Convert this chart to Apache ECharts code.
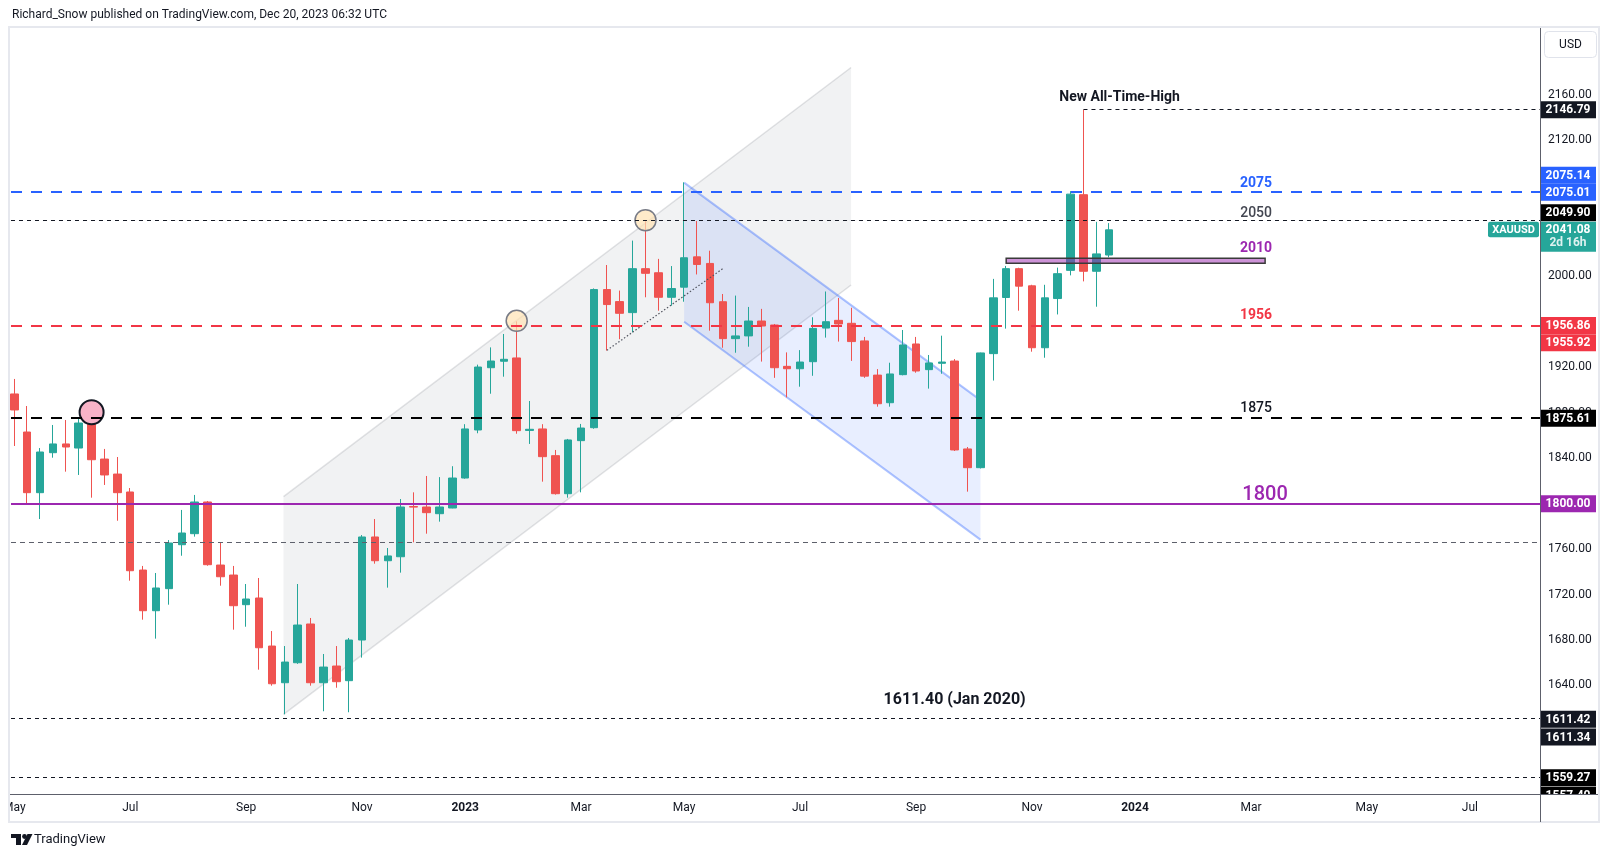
<!DOCTYPE html>
<html><head><meta charset="utf-8">
<script src="https://cdn.jsdelivr.net/npm/echarts@6/dist/echarts.min.js"></script>
<style>html,body{margin:0;padding:0;background:#fff;}#c{width:1610px;height:857px;}</style>
</head><body><div id="c"></div>
<script>
// ---------- data (weekly XAUUSD candles) ----------
const weeks = ['2022-05-02','2022-05-09','2022-05-16','2022-05-23','2022-05-30','2022-06-06','2022-06-13','2022-06-20','2022-06-27','2022-07-04',
'2022-07-11','2022-07-18','2022-07-25','2022-08-01','2022-08-08','2022-08-15','2022-08-22','2022-08-29','2022-09-05','2022-09-12',
'2022-09-19','2022-09-26','2022-10-03','2022-10-10','2022-10-17','2022-10-24','2022-10-31','2022-11-07','2022-11-14','2022-11-21',
'2022-11-28','2022-12-05','2022-12-12','2022-12-19','2022-12-26','2023-01-02','2023-01-09','2023-01-16','2023-01-23','2023-01-30',
'2023-02-06','2023-02-13','2023-02-20','2023-02-27','2023-03-06','2023-03-13','2023-03-20','2023-03-27','2023-04-03','2023-04-10',
'2023-04-17','2023-04-24','2023-05-01','2023-05-08','2023-05-15','2023-05-22','2023-05-29','2023-06-05','2023-06-12','2023-06-19',
'2023-06-26','2023-07-03','2023-07-10','2023-07-17','2023-07-24','2023-07-31','2023-08-07','2023-08-14','2023-08-21','2023-08-28',
'2023-09-04','2023-09-11','2023-09-18','2023-09-25','2023-10-02','2023-10-09','2023-10-16','2023-10-23','2023-10-30','2023-11-06',
'2023-11-13','2023-11-20','2023-11-27','2023-12-04','2023-12-11','2023-12-18'];
const opens = [1896.6,1863.1,1809.7,1844.9,1852.6,1849.0,1871.0,1839.3,1826.1,1810.3,
1741.6,1705.8,1725.2,1763.9,1773.6,1801.5,1746.0,1737.2,1711.1,1717.0,
1674.7,1642.4,1660.0,1694.1,1642.4,1657.1,1644.2,1680.0,1770.7,1749.8,
1753.3,1797.5,1797.1,1791.2,1796.2,1822.6,1864.9,1919.7,1925.4,1928.3,
1864.5,1865.8,1842.3,1808.8,1855.5,1866.9,1988.5,1977.9,1968.2,2006.9,
2003.3,1981.7,1990.6,2017.3,2011.5,1977.8,1945.3,1947.7,1960.8,1957.3,
1920.9,1918.8,1925.0,1954.6,1961.4,1958.8,1943.3,1913.2,1888.9,1913.6,
1940.6,1918.0,1923.6,1925.6,1848.2,1831.7,1932.1,1981.5,2006.9,1991.8,
1937.3,1980.6,2005.4,2072.0,2004.6,2018.9];
const highs = [1909.8,1886.0,1849.0,1869.3,1873.7,1875.0,1879.8,1848.2,1841.1,1813.8,
1745.2,1739.0,1768.0,1794.5,1807.7,1802.4,1765.4,1745.2,1729.3,1734.6,
1687.9,1674.7,1729.3,1699.4,1667.7,1674.7,1681.8,1772.4,1786.5,1761.0,
1804.1,1810.0,1824.4,1823.4,1833.0,1870.0,1922.4,1937.6,1949.4,1960.5,
1890.4,1870.0,1847.3,1857.0,1870.2,1989.5,2010.1,1987.6,2031.6,2048.7,
2015.5,2009.2,2082.9,2048.8,2022.7,1984.6,1983.2,1973.2,1971.5,1958.2,
1933.2,1935.2,1964.1,1986.8,1981.1,1972.5,1946.8,1918.5,1924.1,1952.9,
1946.8,1930.9,1947.9,1927.3,1849.9,1933.0,1997.9,2009.3,2007.7,1992.7,
1992.7,2007.8,2075.14,2146.79,2048.1,2047.0];
const lows = [1850.8,1798.9,1786.5,1840.5,1828.2,1825.3,1805.3,1816.5,1785.0,1732.2,
1697.9,1681.2,1711.1,1754.2,1771.0,1745.4,1727.8,1689.1,1691.7,1653.9,
1639.8,1614.6,1659.0,1639.8,1617.3,1638.0,1616.4,1664.5,1747.2,1726.1,
1739.3,1766.0,1773.6,1784.2,1796.0,1822.0,1862.0,1896.8,1911.8,1861.6,
1852.6,1819.4,1808.0,1805.3,1810.0,1866.0,1934.8,1944.8,1950.9,1981.7,
1969.9,1974.3,1977.8,2001.8,1952.3,1937.3,1932.9,1938.2,1925.1,1910.8,
1893.6,1903.0,1912.6,1946.2,1942.7,1925.7,1910.8,1885.4,1885.4,1913.0,
1915.3,1901.3,1914.4,1846.4,1810.6,1831.0,1908.4,1954.1,1969.9,1933.8,
1928.5,1966.6,2001.0,1995.7,1973.4,2016.9];
const closes = [1882.5,1809.7,1845.5,1852.6,1849.9,1871.0,1838.7,1825.3,1809.7,1741.0,
1705.8,1725.8,1765.4,1774.2,1801.5,1746.3,1735.7,1710.2,1716.1,1673.2,
1641.5,1660.6,1693.2,1642.4,1656.2,1643.3,1680.0,1770.7,1749.8,1754.0,
1797.1,1797.0,1792.1,1797.1,1822.6,1865.8,1920.3,1925.6,1927.1,1864.3,
1865.5,1841.4,1808.8,1856.1,1866.6,1988.5,1975.3,1967.6,2006.9,2002.8,
1981.7,1989.4,2016.5,2010.6,1976.9,1945.3,1947.7,1960.8,1956.4,1919.7,
1918.8,1924.7,1954.3,1960.2,1958.2,1942.7,1912.3,1888.0,1914.2,1939.7,
1916.8,1923.9,1924.7,1847.3,1831.7,1932.7,1981.2,2006.9,1991.5,1937.3,
1981.2,2002.5,2072.5,2004.6,2019.9,2041.08];

// time axis labels (week index of first bar in month) and price ticks
const timeLabelIdx = [0, 9, 18, 27, 35, 44, 52, 61, 70, 79, 87, 96, 105, 113];
const timeLabelText = ['May','Jul','Sep','Nov','2023','Mar','May','Jul','Sep','Nov','2024','Mar','May','Jul'];
const priceTicks = [1640, 1680, 1720, 1760, 1840, 1880, 1920, 2000, 2120, 2160];

// horizontal levels
const athLevel = 2146.79, athIdx = 83;
const levelValues = [2075.01, 2049.90, 1956.86, 1875.61, 1800.00, 1766.5, 1611.40, 1559.27];
// drawings (week index, price)
const grayChX = [20.9, 64.96], grayChUpper = [1806.2, 2184.0], grayChLower = [1614.6, 1992.5];
const blueChX = [52, 75], blueChUpper = [2082.6, 1891.2], blueChLower = [1960.2, 1768.4];
const trendX = [46, 55], trendY = [1935.0, 2006.9];
const zoneX = [77, 97.1], zoneY = [2016.0, 2011.6];
const circleX = [6, 39, 49], circleY = [1880.5, 1961.0, 2049.5];
// annotation texts
const noteText = ['New All-Time-High', '2075', '2050', '2010', '1956', '1875', '1800', '1611.40 (Jan 2020)'];
const noteX = [85.8, 96.4, 96.4, 96.4, 96.4, 96.4, 97.1, 73.0];
const noteY = [2157.6, 2081.6, 2055.6, 2024.8, 1966.0, 1883.8, 1807.9, 1627.6];
// price-scale tags
const tagValues = [2146.79, 2075.14, 2075.01, 2049.90, 1956.86, 1955.92, 1875.61, 1800.00, 1611.42, 1611.34, 1559.27, 1557.40];
const lastPrice = closes[closes.length - 1];
const countdown = '2d 16h';

// ---------- styles (kept out of data) ----------
const FONT = 'Roboto, "Liberation Sans", sans-serif';
const UP = '#26a69a', DOWN = '#ef5350';
const levelStyles = [
  {color:'#2962ff', width:2, type:[11,9]},
  {color:'#131722', width:1, type:[4,4]},
  {color:'#f23645', width:2, type:[11,9]},
  {color:'#000000', width:2, type:[11,9]},
  {color:'#9c27b0', width:2, type:'solid'},
  {color:'#5d606b', width:1, type:[5,4]},
  {color:'#131722', width:1, type:[4,4]},
  {color:'#131722', width:1, type:[4,4]}
];
const noteStyles = [
  {c:'#131722', s:14, w:'bold'},
  {c:'#2962ff', s:14, w:'bold'},
  {c:'#434651', s:14, w:'500'},
  {c:'#9c27b0', s:14, w:'bold'},
  {c:'#f23645', s:14, w:'bold'},
  {c:'#131722', s:14, w:'500'},
  {c:'#9c27b0', s:20, w:'500'},
  {c:'#131722', s:16, w:'bold'}
];
const tagBg = ['#131722','#2962ff','#2962ff','#000000','#f23645','#f23645','#000000','#9c27b0','#131722','#131722','#000000','#000000'];
const tagShift = [0, -16, 1, -7, 0, 16.3, 0.5, 0, 1.4, 19, 0.5, 16];

const xMin = -0.256, xMax = 118.44, yMin = 1544.45, yMax = 2218.75;

const candleData = weeks.map((w, i) => [i, opens[i], closes[i], lows[i], highs[i]]);

const chart = echarts.init(document.getElementById('c'), null, {renderer: 'canvas'});

const markData = levelValues.map((v, k) => ({yAxis: v, lineStyle: levelStyles[k]}));
markData.push([{coord: [athIdx, athLevel], lineStyle: {color:'#131722', width:1, type:[4,4]}}, {coord: [xMax, athLevel]}]);

const option = {
  animation: false,
  backgroundColor: '#ffffff',
  textStyle: {fontFamily: FONT},
  grid: {left: 10, top: 28, width: 1530, height: 766, containLabel: false},
  xAxis: {
    type: 'value', min: xMin, max: xMax,
    axisLine: {show: false}, axisTick: {show: false}, splitLine: {show: false},
    axisLabel: {
      customValues: timeLabelIdx, margin: 8, color: '#131722', fontSize: 12, fontFamily: FONT,
      formatter: v => { const t = timeLabelText[timeLabelIdx.indexOf(v)] || ''; return /^\d{4}$/.test(t) ? '{y|' + t + '}' : t; },
      rich: {y: {fontWeight: 'bold', fontSize: 12, color: '#131722', fontFamily: FONT}}
    }
  },
  yAxis: {
    type: 'value', position: 'right', min: yMin, max: yMax, scale: true,
    axisLine: {show: false}, axisTick: {show: false}, splitLine: {show: false},
    axisLabel: {customValues: priceTicks, margin: 8, color: '#131722', fontSize: 12, fontFamily: FONT,
      formatter: v => v.toFixed(2)}
  },
  series: [
    { // channels (under candles)
      type: 'custom', z: 1, silent: true, data: [[0, 1800]],
      renderItem: (params, api) => {
        const g = (x, y) => api.coord([x, y]);
        const gUL = g(grayChX[0], grayChUpper[0]), gUR = g(grayChX[1], grayChUpper[1]);
        const gLL = g(grayChX[0], grayChLower[0]), gLR = g(grayChX[1], grayChLower[1]);
        const bUL = g(blueChX[0], blueChUpper[0]), bUR = g(blueChX[1], blueChUpper[1]);
        const bLL = g(blueChX[0], blueChLower[0]), bLR = g(blueChX[1], blueChLower[1]);
        return {type: 'group', children: [
          {type:'polygon', shape:{points:[gUL, gUR, gLR, gLL]}, style:{fill:'rgba(120,123,134,0.1)'}},
          {type:'line', shape:{x1:gUL[0], y1:gUL[1], x2:gUR[0], y2:gUR[1]}, style:{stroke:'rgba(120,123,134,0.22)', lineWidth:1.5}},
          {type:'line', shape:{x1:gLL[0], y1:gLL[1], x2:gLR[0], y2:gLR[1]}, style:{stroke:'rgba(120,123,134,0.22)', lineWidth:1.5}},
          {type:'polygon', shape:{points:[bUL, bUR, bLR, bLL]}, style:{fill:'rgba(41,98,255,0.11)'}},
          {type:'line', shape:{x1:bUL[0], y1:bUL[1], x2:bUR[0], y2:bUR[1]}, style:{stroke:'rgba(41,98,255,0.38)', lineWidth:2}},
          {type:'line', shape:{x1:bLL[0], y1:bLL[1], x2:bLR[0], y2:bLR[1]}, style:{stroke:'rgba(41,98,255,0.38)', lineWidth:2}}
        ]};
      }
    },
    {
      type: 'candlestick', name: 'XAUUSD', z: 2, data: candleData, barWidth: 8,
      itemStyle: {color: UP, color0: DOWN, borderColor: UP, borderColor0: DOWN, borderWidth: 1},
      emphasis: {disabled: true}
    },
    {
      type: 'line', z: 3, data: [], silent: true,
      markLine: {symbol: 'none', silent: true, animation: false, label: {show: false}, emphasis: {disabled: true}, data: markData}
    },
    { // overlay drawings and texts
      type: 'custom', z: 4, silent: true, data: [[0, 1800]],
      renderItem: (params, api) => {
        const children = [];
        const z0 = api.coord([zoneX[0], zoneY[0]]), z1 = api.coord([zoneX[1], zoneY[1]]);
        children.push({type:'rect', shape:{x:z0[0], y:z0[1], width:z1[0]-z0[0], height:z1[1]-z0[1]},
          style:{fill:'rgba(156,39,176,0.5)', stroke:'#3a3a3a', lineWidth:1.5}});
        const t0 = api.coord([trendX[0], trendY[0]]), t1 = api.coord([trendX[1], trendY[1]]);
        children.push({type:'line', shape:{x1:t0[0], y1:t0[1], x2:t1[0], y2:t1[1]}, style:{stroke:'#50535e', lineWidth:1.2, lineDash:[1.5,2]}});
        circleX.forEach((cx, k) => {
          const p = api.coord([cx, circleY[k]]);
          children.push(k === 0
            ? {type:'circle', shape:{cx:p[0], cy:p[1], r:12}, style:{fill:'#f8b3c8', stroke:'#131722', lineWidth:2}}
            : {type:'circle', shape:{cx:p[0], cy:p[1], r:10.5}, style:{fill:'rgba(255,226,180,0.7)', stroke:'#787b86', lineWidth:1.5}});
        });
        noteText.forEach((t, k) => {
          const p = api.coord([noteX[k], noteY[k]]);
          const s = noteStyles[k];
          children.push({type:'text', x:p[0], y:p[1], style:{text:t, fill:s.c, font: s.w + ' ' + s.s + 'px ' + FONT, align:'center', verticalAlign:'middle'}});
        });
        return {type:'group', children};
      }
    },
    { // price-scale tags
      type: 'custom', z: 6, silent: true, clip: false, data: [[0, 1800]],
      renderItem: (params, api) => {
        const cs = params.coordSys;
        const right = cs.x + cs.width;
        const children = [];
        tagValues.forEach((v, k) => {
          const y = api.coord([0, v])[1] + tagShift[k];
          children.push({type:'rect', shape:{x:right, y:y-8.5, width:56, height:17}, style:{fill:tagBg[k]}});
          children.push({type:'text', x:right+28, y:y+0.5, style:{text:v.toFixed(2), fill:'#ffffff', font:'bold 12px ' + FONT, align:'center', verticalAlign:'middle'}});
        });
        const yl = api.coord([0, lastPrice])[1];
        children.push({type:'rect', shape:{x:right, y:yl-8, width:56, height:30}, style:{fill:UP}});
        children.push({type:'text', x:right+28, y:yl, style:{text:lastPrice.toFixed(2), fill:'#ffffff', font:'bold 12px ' + FONT, align:'center', verticalAlign:'middle'}});
        children.push({type:'text', x:right+28, y:yl+13, style:{text:countdown, fill:'rgba(255,255,255,0.85)', font:'bold 12px ' + FONT, align:'center', verticalAlign:'middle'}});
        children.push({type:'rect', shape:{x:right-52, y:yl-8, width:51, height:15.5, r:2}, style:{fill:UP}});
        children.push({type:'text', x:right-26.5, y:yl, style:{text:'XAUUSD', fill:'#ffffff', font:'bold 11px ' + FONT, align:'center', verticalAlign:'middle'}});
        return {type:'group', children};
      }
    }
  ],
  graphic: [
    {type:'rect', z:100, shape:{x:0, y:795, width:9, height:27}, style:{fill:'#ffffff'}},
    {type:'rect', z:100, shape:{x:1541, y:795, width:57, height:27}, style:{fill:'#ffffff'}},
    {type:'rect', z:101, shape:{x:9, y:27, width:1590, height:795}, style:{fill:null, stroke:'#e6e8ee', lineWidth:2}},
    {type:'line', z:102, shape:{x1:1540.5, y1:28, x2:1540.5, y2:822}, style:{stroke:'#5d606b', lineWidth:1}},
    {type:'line', z:102, shape:{x1:10, y1:794.5, x2:1598, y2:794.5}, style:{stroke:'#5d606b', lineWidth:1}},
    {type:'rect', z:102, shape:{x:1544.5, y:31.5, width:52, height:26, r:4}, style:{fill:'#ffffff', stroke:'#e0e3eb', lineWidth:1}},
    {type:'text', z:103, x:1570.5, y:44.5, style:{text:'USD', fill:'#131722', font:'12px ' + FONT, align:'center', verticalAlign:'middle'}},
    {type:'text', z:103, x:12, y:14.5, style:{text:'Richard_Snow published on TradingView.com, Dec 20, 2023 06:32 UTC', fill:'#131722', font:'12px ' + FONT, verticalAlign:'middle'}},
    {type:'rect', z:103, shape:{x:11, y:834, width:10, height:4}, style:{fill:'#131722'}},
    {type:'rect', z:103, shape:{x:16, y:834, width:5, height:11}, style:{fill:'#131722'}},
    {type:'circle', z:103, shape:{cx:24.5, cy:836.5, r:2.4}, style:{fill:'#131722'}},
    {type:'polygon', z:103, shape:{points:[[27.5,834],[32.5,834],[27,845],[22,845]]}, style:{fill:'#131722'}},
    {type:'text', z:103, x:34, y:840, style:{text:'TradingView', fill:'#131722', font:'13px ' + FONT, verticalAlign:'middle'}}
  ]
};
chart.setOption(option);
</script>
</body></html>
